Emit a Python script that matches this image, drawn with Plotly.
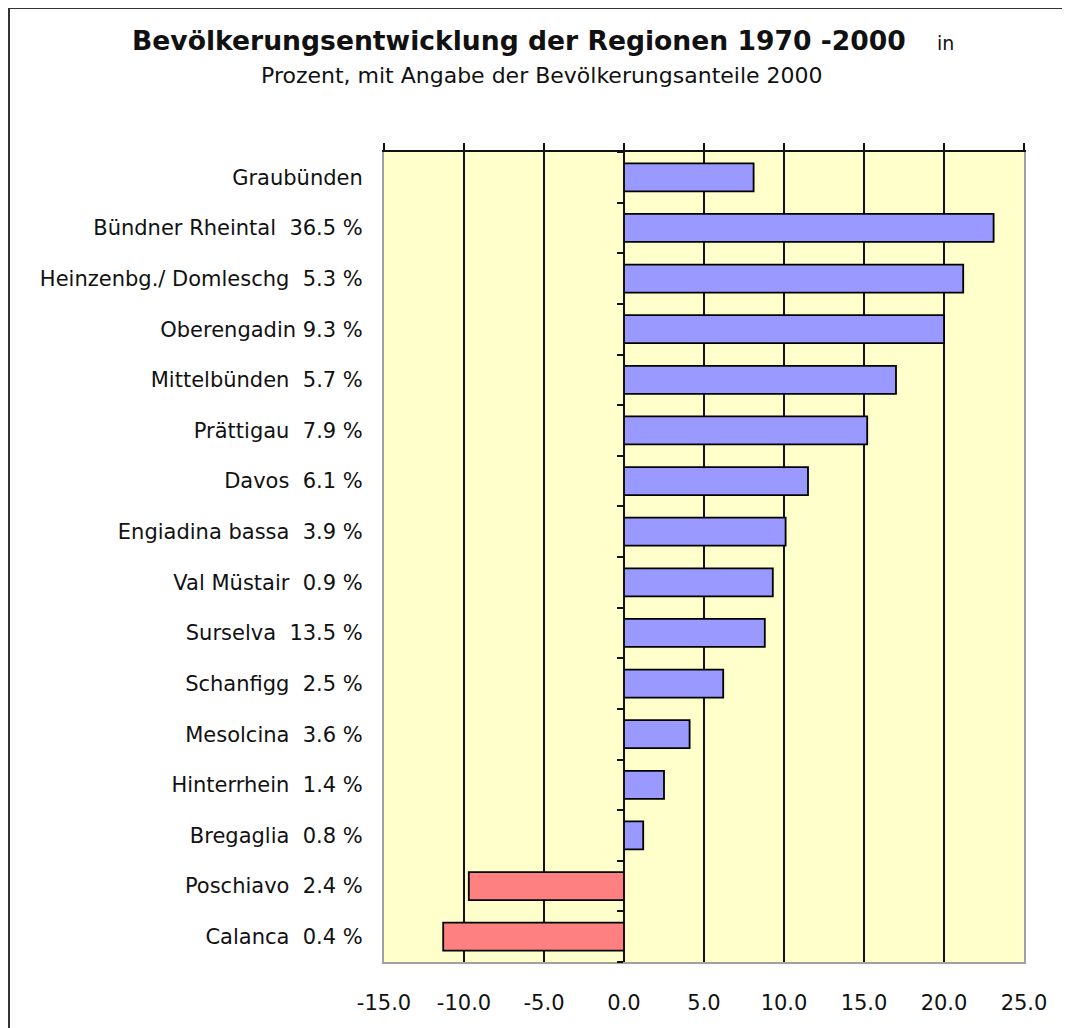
import plotly.graph_objects as go

categories = ["Graubünden", "Bündner Rheintal  36.5 %", "Heinzenbg./ Domleschg  5.3 %",
              "Oberengadin 9.3 %", "Mittelbünden  5.7 %", "Prättigau  7.9 %", "Davos  6.1 %",
              "Engiadina bassa  3.9 %", "Val Müstair  0.9 %", "Surselva  13.5 %",
              "Schanfigg  2.5 %", "Mesolcina  3.6 %", "Hinterrhein  1.4 %", "Bregaglia  0.8 %",
              "Poschiavo  2.4 %", "Calanca  0.4 %"]
values = [8.1, 23.1, 21.2, 20.0, 17.0, 15.2, 11.5, 10.1, 9.3, 8.8, 6.2, 4.1, 2.5, 1.2, -9.7, -11.3]
x_ticks = [-15, -10, -5, 0, 5, 10, 15, 20, 25]
x_tick_labels = ["-15.0", "-10.0", "-5.0", "0.0", "5.0", "10.0", "15.0", "20.0", "25.0"]
grid_vals = [-10, -5, 5, 10, 15, 20]

POS, NEG = "#9999FF", "#FF8080"
colors = [POS if v >= 0 else NEG for v in values]

W, H = 1070, 1028
OFF = 8  # page offset of the figure (body margin)
L, T = 384 - OFF, 152 - OFF
R = W - (1024 - OFF)
B = H - (962 - OFF)
pw, ph = W - L - R, H - T - B

def px_x(px):  # page pixel -> paper
    return (px - OFF - L) / pw

def px_y(py):
    return (H - B - (py - OFF)) / ph

FONT = "DejaVu Sans"

fig = go.Figure()
fig.add_trace(go.Bar(
    y=categories, x=values, orientation="h",
    marker=dict(color=colors, line=dict(color="#000000", width=1.8)),
    showlegend=False, hoverinfo="x+y",
))
n = len(categories)
fig.add_trace(go.Scatter(x=[None], y=[None], xaxis="x2", yaxis="y2", showlegend=False, hoverinfo="skip"))

fig.update_layout(
    width=W, height=H,
    margin=dict(l=L, r=R, t=T, b=B),
    paper_bgcolor="white", plot_bgcolor="#FFFFCC",
    bargap=0.447,
    font=dict(family=FONT, size=21, color="#111111"),
    xaxis=dict(
        range=[-15, 25], tickvals=x_ticks, ticktext=x_tick_labels,
        ticks="", showgrid=False,
        zeroline=True, zerolinecolor="#111111", zerolinewidth=2,
        showline=True, linecolor="#A0A0A0", linewidth=2,
        ticklabelstandoff=21,
        tickfont=dict(family=FONT, size=21, color="#111111"),
        minor=dict(tickvals=grid_vals, showgrid=True, gridcolor="#111111", gridwidth=2, ticks=""),
    ),
    xaxis2=dict(
        range=[-15, 25], overlaying="x", side="top", anchor="y",
        tickvals=x_ticks, showticklabels=False, ticks="outside", ticklen=7, tickwidth=2,
        tickcolor="#111111", showgrid=False, zeroline=False,
        showline=True, linecolor="#111111", linewidth=2,
    ),
    yaxis=dict(
        autorange="reversed", ticks="", showgrid=False,
        showline=True, linecolor="#A0A0A0", linewidth=2, mirror=True,
        ticklabelstandoff=15,
        tickfont=dict(family=FONT, size=21, color="#111111"),
    ),
    yaxis2=dict(
        overlaying="y", anchor="free", side="left",
        position=(0 - (-15)) / (25 - (-15)),
        range=[n - 0.5, -0.5],
        tickvals=[i - 0.5 for i in range(n + 1)],
        showticklabels=False, ticks="outside", ticklen=6, tickwidth=2, tickcolor="#111111",
        showgrid=False, zeroline=False, showline=True, linecolor="#111111", linewidth=2,
    ),
    annotations=[
        dict(text="<b>Bevölkerungsentwicklung der Regionen 1970 -2000</b>",
             x=px_x(519), y=px_y(40), xref="paper", yref="paper",
             xanchor="center", yanchor="middle", showarrow=False,
             font=dict(family=FONT, size=26.6, color="#111111")),
        dict(text="in", x=px_x(945), y=px_y(43), xref="paper", yref="paper",
             xanchor="center", yanchor="middle", showarrow=False,
             font=dict(family=FONT, size=19, color="#111111")),
        dict(text="Prozent, mit Angabe der Bevölkerungsanteile 2000",
             x=px_x(542), y=px_y(76), xref="paper", yref="paper",
             xanchor="center", yanchor="middle", showarrow=False,
             font=dict(family=FONT, size=22, color="#111111")),
    ],
    shapes=[
        dict(type="rect", xref="paper", yref="paper",
             x0=px_x(9), x1=px_x(W + 40), y0=px_y(H + 40), y1=px_y(8),
             line=dict(color="#333333", width=2), fillcolor="rgba(0,0,0,0)", layer="below"),
    ],
)

fig.write_html("out.html")
